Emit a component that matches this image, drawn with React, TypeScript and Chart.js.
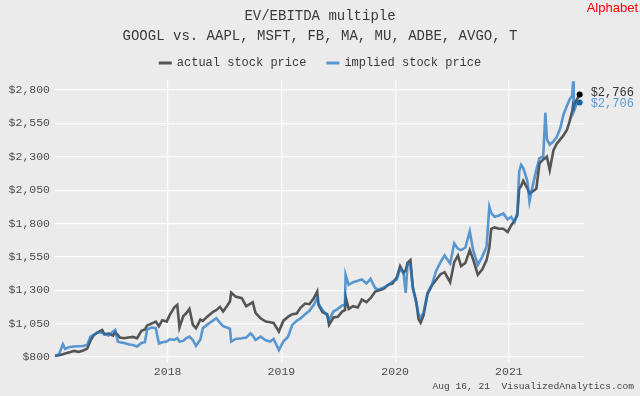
import React, { useEffect, useRef } from "react";
import { Chart, registerables } from "chart.js";

Chart.register(...registerables);

const titleText = "EV/EBITDA multiple";
const subtitleText = "GOOGL vs. AAPL, MSFT, FB, MA, MU, ADBE, AVGO, T";
const brandText = "Alphabet";
const footerText = "Aug 16, 21  VisualizedAnalytics.com";
const seriesNames = ["actual stock price", "implied stock price"];

const dates = [
  "2017-01-03", "2017-01-17", "2017-01-30", "2017-02-06", "2017-02-21", "2017-03-06", "2017-03-22", "2017-04-05",
  "2017-04-18", "2017-04-28", "2017-05-08", "2017-05-22", "2017-06-05", "2017-06-12", "2017-06-26", "2017-07-10",
  "2017-07-17", "2017-07-25", "2017-08-01", "2017-08-14", "2017-08-28", "2017-09-11", "2017-09-25", "2017-10-09",
  "2017-10-20", "2017-10-27", "2017-11-10", "2017-11-24", "2017-12-04", "2017-12-15", "2017-12-29",
  "2018-01-08", "2018-01-22", "2018-02-01", "2018-02-08", "2018-02-20", "2018-03-01", "2018-03-12", "2018-03-23",
  "2018-04-02", "2018-04-16", "2018-04-24", "2018-05-07", "2018-05-28", "2018-06-06", "2018-06-18", "2018-06-28",
  "2018-07-10", "2018-07-20", "2018-07-24", "2018-08-07", "2018-08-27", "2018-09-10", "2018-09-24", "2018-10-01",
  "2018-10-10", "2018-10-26", "2018-11-12", "2018-11-26", "2018-12-07", "2018-12-24",
  "2019-01-07", "2019-01-22", "2019-02-05", "2019-02-19", "2019-03-04", "2019-03-18", "2019-04-01", "2019-04-15",
  "2019-04-26", "2019-04-30", "2019-05-13", "2019-05-28", "2019-06-03", "2019-06-17", "2019-07-01", "2019-07-15",
  "2019-07-24", "2019-07-26", "2019-08-05", "2019-08-19", "2019-09-03", "2019-09-16", "2019-10-01", "2019-10-14",
  "2019-10-29", "2019-11-11", "2019-11-25", "2019-12-09", "2019-12-23",
  "2020-01-06", "2020-01-17", "2020-01-28", "2020-02-04", "2020-02-10", "2020-02-19", "2020-02-27", "2020-03-09",
  "2020-03-16", "2020-03-23", "2020-04-01", "2020-04-14", "2020-04-29", "2020-05-11", "2020-05-26", "2020-06-08",
  "2020-06-26", "2020-07-09", "2020-07-21", "2020-07-31", "2020-08-14", "2020-08-28", "2020-09-08", "2020-09-23",
  "2020-10-07", "2020-10-21", "2020-10-30", "2020-11-05", "2020-11-16", "2020-11-30", "2020-12-14", "2020-12-28",
  "2021-01-08", "2021-01-19", "2021-01-28", "2021-02-03", "2021-02-09", "2021-02-16", "2021-03-01", "2021-03-08",
  "2021-03-18", "2021-03-30", "2021-04-09", "2021-04-21", "2021-04-28", "2021-05-03", "2021-05-12", "2021-05-24",
  "2021-06-04", "2021-06-15", "2021-06-25", "2021-07-06", "2021-07-14", "2021-07-23", "2021-07-26", "2021-07-28",
  "2021-08-05", "2021-08-16",
];

const actualPrice = [
  807, 812, 820, 825, 835, 845, 838, 848,
  862, 920, 960, 985, 1002, 970, 975, 960,
  985, 965, 945, 940, 945, 950, 940, 995,
  1005, 1035, 1050, 1065, 1030, 1075, 1065,
  1115, 1170, 1190, 1020, 1105, 1125, 1160, 1040,
  1015, 1080, 1070, 1100, 1140, 1150, 1175, 1140,
  1180, 1215, 1282, 1252, 1240, 1180, 1200, 1210,
  1130, 1090, 1065, 1060, 1055, 990,
  1070, 1100, 1120, 1125, 1170, 1200, 1195, 1240,
  1290, 1190, 1135, 1120, 1040, 1095, 1100, 1140,
  1150, 1250, 1160, 1180, 1170, 1230, 1210, 1240,
  1290, 1300, 1310, 1340, 1350,
  1395, 1480, 1430, 1450, 1505, 1525, 1320, 1215,
  1085, 1056, 1110, 1270, 1340, 1375, 1420, 1435,
  1360, 1510, 1560, 1480, 1505, 1600, 1530, 1415,
  1455, 1525, 1620, 1760, 1770, 1760, 1760, 1735,
  1785, 1820, 1860, 2060, 2080, 2120, 2065, 2025,
  2040, 2060, 2250, 2280, 2290, 2300, 2200, 2350,
  2400, 2430, 2460, 2500, 2560, 2640, 2690, 2680,
  2720, 2766,
];

const impliedPrice = [
  810, 818, 895, 860, 875, 878, 880, 882,
  890, 950, 965, 985, 980, 972, 960, 990,
  1002, 915, 910, 905, 895, 890, 878, 905,
  910, 1005, 1020, 1015, 900, 910, 915,
  932, 928, 940, 915, 920, 940, 952, 927,
  882, 930, 1015, 1040, 1075, 1090, 1055, 1030,
  1020, 1010, 915, 935, 940, 945, 977, 960,
  927, 952, 925, 915, 935, 852,
  915, 950, 1040, 1070, 1090, 1120, 1145, 1190,
  1240, 1200, 1150, 1110, 1080, 1140, 1160, 1185,
  1190, 1415, 1340, 1360, 1370, 1380, 1350, 1385,
  1315, 1305, 1320, 1335, 1365,
  1380, 1460, 1430, 1280, 1500, 1490, 1310, 1200,
  1125, 1095, 1130, 1280, 1345, 1440, 1510, 1560,
  1500, 1650, 1610, 1600, 1620, 1740, 1600, 1490,
  1550, 1625, 1925, 1880, 1850, 1860, 1875, 1830,
  1850, 1810, 1880, 2190, 2240, 2215, 2120, 1965,
  2080, 2200, 2290, 2300, 2630, 2430, 2390, 2415,
  2450, 2515, 2615, 2680, 2727, 2760, 2865, 2640,
  2690, 2706,
];

const yTicks = [800, 1050, 1300, 1550, 1800, 2050, 2300, 2550, 2800];
const xTicks = [2018, 2019, 2020, 2021];

const MONO = '"Liberation Mono", "DejaVu Sans Mono", monospace';
const BG = "#ebebeb";
const GRAY = "#555555";
const BLUE = "rgba(30,117,195,0.72)";
const BLUE_TEXT = "#5b9bd5";

function toYear(d: string): number {
  const [y, m, dd] = d.split("-").map(Number);
  const start = Date.UTC(y, 0, 1);
  const end = Date.UTC(y + 1, 0, 1);
  return y + (Date.UTC(y, m - 1, dd) - start) / (end - start);
}

function fmt(v: number): string {
  return "$" + Math.round(v).toLocaleString("en-US");
}

export default function App() {
  const canvasRef = useRef<HTMLCanvasElement | null>(null);

  useEffect(() => {
    const canvas = canvasRef.current;
    if (!canvas) return;
    const xs = dates.map(toYear);
    const last = dates.length - 1;

    const decor = {
      id: "decor",
      afterDraw(chart: any) {
        const ctx = chart.ctx as CanvasRenderingContext2D;
        ctx.save();
        ctx.textBaseline = "middle";
        // titles
        ctx.fillStyle = "#3a3a3a";
        ctx.font = `14px ${MONO}`;
        ctx.textAlign = "center";
        ctx.fillText(titleText, 320, 16);
        ctx.fillText(subtitleText, 320, 36);
        // legend
        ctx.font = `12px ${MONO}`;
        const sw = 13, gap = 5, itemGap = 20;
        const w1 = ctx.measureText(seriesNames[0]).width;
        const w2 = ctx.measureText(seriesNames[1]).width;
        const total = sw + gap + w1 + itemGap + sw + gap + w2;
        let lx = 320 - total / 2;
        const ly = 63;
        ctx.textAlign = "left";
        ctx.lineWidth = 3;
        ctx.strokeStyle = GRAY;
        ctx.beginPath();
        ctx.moveTo(lx, ly);
        ctx.lineTo(lx + sw, ly);
        ctx.stroke();
        ctx.fillStyle = "#3a3a3a";
        ctx.fillText(seriesNames[0], lx + sw + gap, ly);
        lx += sw + gap + w1 + itemGap;
        ctx.strokeStyle = BLUE;
        ctx.beginPath();
        ctx.moveTo(lx, ly);
        ctx.lineTo(lx + sw, ly);
        ctx.stroke();
        ctx.fillStyle = "#3a3a3a";
        ctx.fillText(seriesNames[1], lx + sw + gap, ly);
        // brand
        ctx.font = '13px "Liberation Sans", Arial, sans-serif';
        ctx.fillStyle = "#ff0000";
        ctx.textAlign = "right";
        ctx.fillText(brandText, 638, 8);
        // footer
        ctx.font = `9.6px ${MONO}`;
        ctx.fillStyle = "#444444";
        ctx.fillText(footerText, 634, 386);
        // end labels
        const ys = chart.scales.y;
        const xsc = chart.scales.x;
        const ex = xsc.getPixelForValue(xs[last]) + 11;
        const yA = ys.getPixelForValue(actualPrice[last]) - 2;
        const yI = Math.max(ys.getPixelForValue(impliedPrice[last]) + 1, yA + 11);
        ctx.font = `12px ${MONO}`;
        ctx.textAlign = "left";
        ctx.fillStyle = "#333333";
        ctx.fillText(fmt(actualPrice[last]), ex, yA);
        ctx.fillStyle = BLUE_TEXT;
        ctx.fillText(fmt(impliedPrice[last]), ex, yI);
        ctx.restore();
      },
    };

    const tickFont = { family: MONO, size: 11.5 };

    const chart = new Chart(canvas, {
      type: "line",
      data: {
        datasets: [
          {
            label: seriesNames[0],
            data: xs.map((x, i) => ({ x, y: actualPrice[i] })),
            borderColor: GRAY,
            backgroundColor: GRAY,
            borderWidth: 2.6,
            tension: 0,
            order: 1,
            pointRadius: (c: any) => (c.dataIndex === last ? 3 : 0),
            pointBackgroundColor: "#000000",
            pointBorderWidth: 0,
          },
          {
            label: seriesNames[1],
            data: xs.map((x, i) => ({ x, y: impliedPrice[i] })),
            borderColor: BLUE,
            backgroundColor: BLUE,
            borderWidth: 2.6,
            tension: 0,
            order: 0,
            pointRadius: (c: any) => (c.dataIndex === last ? 3 : 0),
            pointBackgroundColor: "#1b64a8",
            pointBorderWidth: 0,
          },
        ],
      },
      options: {
        animation: false,
        responsive: false,
        maintainAspectRatio: false,
        layout: { padding: { top: 80, right: 56, left: 0, bottom: 0 } },
        plugins: {
          legend: { display: false },
          title: { display: false },
          tooltip: { enabled: false },
        },
        scales: {
          x: {
            type: "linear",
            min: 2017.01,
            max: 2021.66,
            afterBuildTicks: (s: any) => {
              s.ticks = xTicks.map((v) => ({ value: v }));
            },
            afterFit: (s: any) => {
              s.height = 34;
            },
            ticks: {
              callback: (v: any) => String(v),
              font: tickFont,
              color: "#4d4d4d",
              padding: 3,
              maxRotation: 0,
              autoSkip: false,
            },
            grid: { color: "#ffffff", lineWidth: 1.2, drawTicks: false },
            border: { display: false },
          },
          y: {
            type: "linear",
            min: 762,
            max: 2875,
            afterBuildTicks: (s: any) => {
              s.ticks = yTicks.map((v) => ({ value: v }));
            },
            afterFit: (s: any) => {
              s.width = 55;
            },
            ticks: {
              callback: (v: any) => fmt(Number(v)),
              font: tickFont,
              color: "#4d4d4d",
              padding: 5,
              autoSkip: false,
            },
            grid: { color: "#ffffff", lineWidth: 1.2, drawTicks: false },
            border: { display: false },
          },
        },
      },
      plugins: [decor],
    } as any);

    return () => chart.destroy();
  }, []);

  return (
    <div style={{ position: "fixed", left: 0, top: 0, width: 640, height: 396, background: BG }}>
      <canvas ref={canvasRef} width={640} height={396} style={{ display: "block", width: 640, height: 396 }} />
    </div>
  );
}
